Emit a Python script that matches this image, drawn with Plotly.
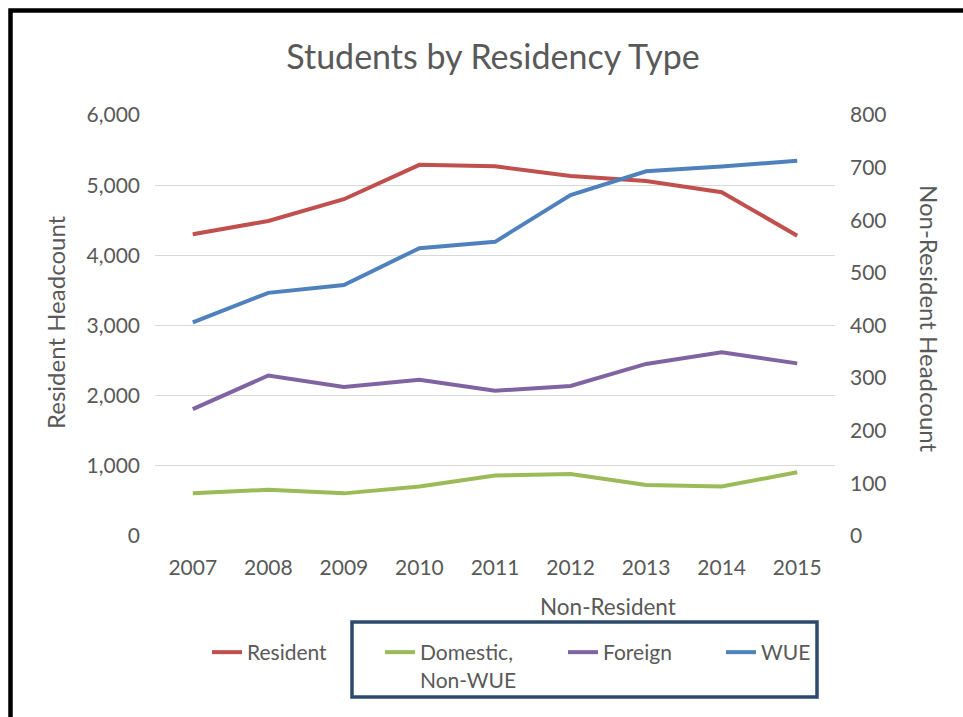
import plotly.graph_objects as go

# Headcounts by academic year
years = ["2007", "2008", "2009", "2010", "2011", "2012", "2013", "2014", "2015"]
resident = [4300, 4490, 4800, 5290, 5270, 5130, 5060, 4900, 4280]
domestic_non_wue = [81, 88, 81, 94, 115, 118, 97, 94, 121]
foreign = [241, 305, 283, 297, 276, 285, 327, 349, 328]
wue = [406, 462, 477, 547, 559, 648, 693, 702, 713]

FONT = "Lato"
TEXT = "#595959"
W, H = 963, 717
L, R, T, B = 155, 835, 115, 536  # plot area edges in px
LEG_FONT = 21


def px_x(p):
    return (p - L) / (R - L)


def px_y(p):
    return (B - p) / (B - T)


def legend_at(text_left):
    # one single-entry legend whose label begins at the given pixel column
    return dict(orientation="h", x=px_x(text_left - 41), y=px_y(632), xanchor="left",
                yanchor="top", valign="top", font=dict(size=LEG_FONT, color=TEXT),
                bgcolor="rgba(0,0,0,0)", itemwidth=30, borderwidth=0)


fig = go.Figure()
fig.add_trace(go.Scatter(x=years, y=resident, name="Resident", mode="lines",
                         line=dict(color="#C0504D", width=4), legend="legend"))
fig.add_trace(go.Scatter(x=years, y=domestic_non_wue, name="Domestic,<br>Non-WUE", mode="lines",
                         line=dict(color="#9BBB59", width=4), yaxis="y2", legend="legend2"))
fig.add_trace(go.Scatter(x=years, y=foreign, name="Foreign", mode="lines",
                         line=dict(color="#8064A2", width=4), yaxis="y2", legend="legend3"))
fig.add_trace(go.Scatter(x=years, y=wue, name="WUE", mode="lines",
                         line=dict(color="#4F81BD", width=4), yaxis="y2", legend="legend4"))

fig.update_layout(
    width=W, height=H,
    margin=dict(l=L, r=W - R, t=T, b=H - B),
    paper_bgcolor="white", plot_bgcolor="white",
    font=dict(family=FONT, color=TEXT, size=21),
    title=dict(text="Students by Residency Type", font=dict(size=34, color=TEXT),
               x=493 / W, xanchor="center", xref="container",
               y=1 - 57 / H, yanchor="middle"),
    xaxis=dict(type="category", range=[-0.5, 8.5], showgrid=False, showline=False,
               zeroline=False, ticks="", ticklabelstandoff=17,
               tickfont=dict(size=21, color=TEXT)),
    yaxis=dict(range=[0, 6000], dtick=1000, tickformat=",", showgrid=True,
               gridcolor="#D9D9D9", gridwidth=1, zeroline=False, showline=False,
               ticks="", ticklabelstandoff=14, tickfont=dict(size=21, color=TEXT)),
    yaxis2=dict(range=[0, 800], dtick=100, overlaying="y", side="right",
                showgrid=False, zeroline=False, showline=False, ticks="",
                ticklabelstandoff=14, tickfont=dict(size=21, color=TEXT)),
    legend=legend_at(248),
    legend2=legend_at(421),
    legend3=legend_at(604),
    legend4=legend_at(762),
    showlegend=True,
)

annotations = [
    dict(text="Resident Headcount", x=px_x(55), y=px_y(322), textangle=-90,
         font=dict(size=24, color=TEXT)),
    dict(text="Non-Resident Headcount", x=px_x(930), y=px_y(318), textangle=90,
         font=dict(size=24, color=TEXT)),
    dict(text="Non-Resident", x=px_x(608), y=px_y(606), font=dict(size=22.5, color=TEXT)),
]
for a in annotations:
    fig.add_annotation(xref="paper", yref="paper", showarrow=False,
                       xanchor="center", yanchor="middle", **a)

# frame grouping the non-resident series in the key
fig.add_shape(type="rect", xref="paper", yref="paper",
              x0=px_x(352), x1=px_x(817), y0=px_y(622), y1=px_y(697),
              line=dict(color="#2C4A6E", width=3.5), fillcolor="rgba(0,0,0,0)")

# outer frame of the graphic
fig.add_shape(type="rect", xref="paper", yref="paper",
              x0=px_x(10.5), x1=px_x(990), y0=px_y(10.5), y1=px_y(740),
              line=dict(color="black", width=4.5), fillcolor="rgba(0,0,0,0)", layer="above")

fig.write_html("out.html")
